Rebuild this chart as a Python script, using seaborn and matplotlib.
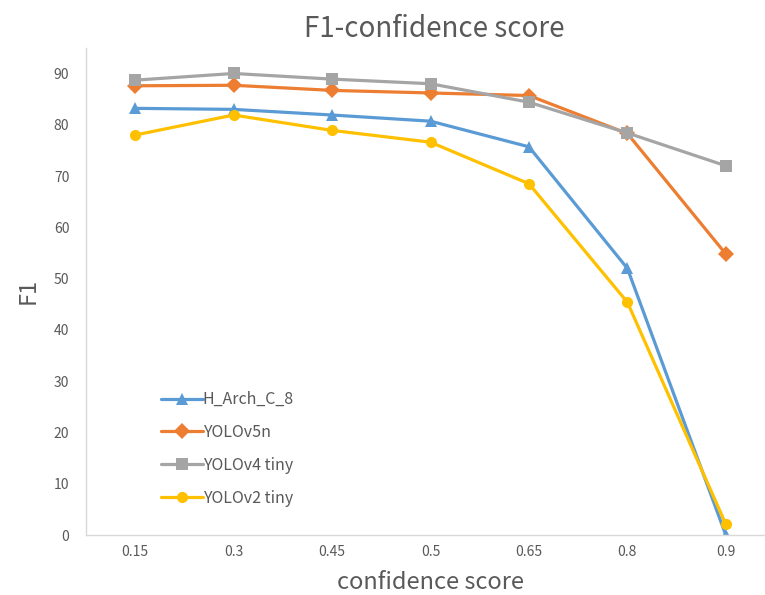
import matplotlib
matplotlib.use("Agg")
import matplotlib.pyplot as plt
import seaborn as sns
import pandas as pd

# Confidence thresholds on the x axis (categorical)
scores = ["0.15", "0.3", "0.45", "0.5", "0.65", "0.8", "0.9"]

# F1 values per model
h_arch_c_8 = [83.2, 83.0, 81.9, 80.7, 75.7, 52.0, 0.0]
yolov5n = [87.6, 87.7, 86.7, 86.2, 85.7, 78.3, 54.8]
yolov4_tiny = [88.7, 90.0, 88.9, 88.0, 84.4, 78.4, 72.0]
yolov2_tiny = [78.0, 81.9, 78.9, 76.6, 68.5, 45.4, 2.1]

series = {
    "H_Arch_C_8": h_arch_c_8,
    "YOLOv5n": yolov5n,
    "YOLOv4 tiny": yolov4_tiny,
    "YOLOv2 tiny": yolov2_tiny,
}
colors = {
    "H_Arch_C_8": "#5B9BD5",
    "YOLOv5n": "#ED7D31",
    "YOLOv4 tiny": "#A5A5A5",
    "YOLOv2 tiny": "#FFC000",
}
markers = {
    "H_Arch_C_8": "^",
    "YOLOv5n": "D",
    "YOLOv4 tiny": "s",
    "YOLOv2 tiny": "o",
}

rows = []
for name, vals in series.items():
    for i, v in enumerate(vals):
        rows.append({"pos": i, "model": name, "F1": v})
df = pd.DataFrame(rows)

sns.set_theme(style="white")
plt.rcParams["font.family"] = ["Noto Sans CJK SC", "DejaVu Sans"]

text_color = "#595959"
axis_color = "#D9D9D9"

fig = plt.figure(figsize=(7.65, 5.95), dpi=100)
ax = fig.add_axes([0.1124, 0.1008, 0.9007, 0.8188])

sns.lineplot(
    data=df, x="pos", y="F1", hue="model", style="model",
    palette=colors, markers=markers, dashes=False,
    linewidth=2.3, markersize=8, markeredgewidth=0, ax=ax,
)

ax.set_xlim(-0.5, 6.5)
ax.set_ylim(0, 95)
ax.set_yticks(range(0, 91, 10))
ax.set_xticks(range(len(scores)))
ax.set_xticklabels(scores)
ax.set_xticks([i - 0.5 for i in range(len(scores) + 1)], minor=True)

ax.tick_params(axis="x", which="major", length=0, colors=text_color, labelsize=10, pad=7)
ax.tick_params(axis="x", which="minor", length=5, width=0.8, color=axis_color, direction="out")
ax.tick_params(axis="y", which="major", length=4, width=0.8, color=axis_color, colors=text_color, labelsize=10, pad=8)
for lab in ax.get_yticklabels():
    lab.set_color(text_color)

for side in ["top", "right"]:
    ax.spines[side].set_visible(False)
for side in ["left", "bottom"]:
    ax.spines[side].set_color(axis_color)
    ax.spines[side].set_linewidth(1.0)

ax.set_xlabel("confidence score", fontsize=17, color=text_color, labelpad=9)
ax.set_ylabel("F1", fontsize=17, color=text_color, labelpad=10)
fig.text(0.568, 0.951, "F1-confidence score", fontsize=20, color=text_color,
         ha="center", va="center")

leg = ax.legend(
    loc="lower left", bbox_to_anchor=(0.088, 0.028), frameon=False,
    fontsize=11.5, handlelength=2.6, handletextpad=0.0, labelspacing=1.0,
)
for t in leg.get_texts():
    t.set_color(text_color)

fig.savefig("out.png", dpi=100)
